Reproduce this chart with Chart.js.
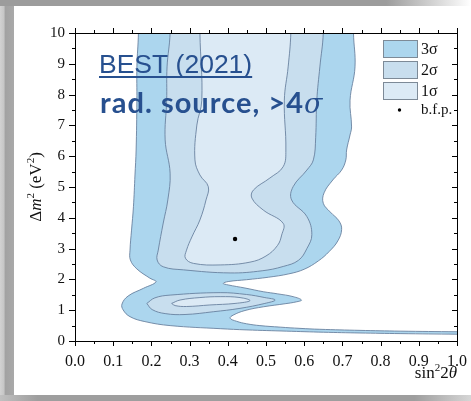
<!DOCTYPE html>
<html><head><meta charset="utf-8">
<script src="https://cdn.jsdelivr.net/npm/chart.js@4/dist/chart.umd.min.js"></script>
<style>
html,body{margin:0;padding:0;}
body{width:471px;height:401px;position:relative;overflow:hidden;background:#a9a9a9;}
#top{position:absolute;left:0;top:0;width:471px;height:6px;background:linear-gradient(to right,#9c9c9c 0%,#9c9c9c 82%,#ffffff 100%);}
#left{position:absolute;left:0;top:6px;width:14px;height:389px;background:linear-gradient(to right,#d2d2d2 0%,#c6c6c6 28%,#a2a2a2 38%,#a9a9a9 100%);}
#bottom{position:absolute;left:0;top:395px;width:471px;height:6px;background:linear-gradient(to right,#c0c0c0 0%,#9e9e9e 8%,#9e9e9e 88%,#d6d6d6 100%);}
#panel{position:absolute;left:14px;top:6px;width:457px;height:389px;background:#fff;}
#c{position:absolute;left:0;top:0;}
</style></head>
<body>
<div id="top"></div><div id="left"></div><div id="bottom"></div><div id="panel"></div>
<canvas id="c" width="471" height="401" style="width:471px;height:401px"></canvas>
<script>
const xTickLabels = ['0.0','0.1','0.2','0.3','0.4','0.5','0.6','0.7','0.8','0.9','1.0'];
const yTickLabels = ['0','1','2','3','4','5','6','7','8','9','10'];
const legendLabels = ['3σ','2σ','1σ','b.f.p.'];
const bestFit = [0.419, 3.31];

const sigma3 = [
[0.166,11.5],[0.166,10.0],[0.162,8.90],[0.162,7.82],[0.160,6.20],[0.157,5.39],[0.153,4.36],[0.148,3.60],
[0.144,2.95],[0.145,2.63],[0.162,2.34],[0.196,2.04],[0.212,1.92],[0.179,1.71],[0.139,1.46],[0.123,1.20],
[0.126,1.01],[0.144,0.79],[0.183,0.63],[0.249,0.50],[0.380,0.40],[0.450,0.36],[0.554,0.32],[0.650,0.285],
[0.746,0.26],[0.851,0.24],[1.000,0.22],[1.060,0.215],[1.060,0.295],[1.000,0.30],[0.851,0.32],[0.746,0.345],
[0.641,0.38],[0.589,0.41],[0.537,0.45],[0.484,0.50],[0.449,0.56],[0.423,0.64],[0.406,0.74],[0.414,0.84],
[0.445,0.99],[0.493,1.11],[0.550,1.21],[0.579,1.27],[0.593,1.33],[0.571,1.44],[0.531,1.53],[0.493,1.60],
[0.445,1.72],[0.401,1.82],[0.388,1.87],[0.401,1.93],[0.449,1.99],[0.506,2.07],[0.560,2.18],[0.600,2.33],
[0.637,2.60],[0.665,2.90],[0.688,3.25],[0.698,3.62],[0.691,3.90],[0.668,4.19],[0.650,4.47],[0.652,4.81],
[0.675,5.23],[0.698,5.55],[0.709,5.88],[0.711,6.20],[0.720,6.69],[0.724,6.95],[0.720,7.82],[0.733,8.90],
[0.729,10.0],[0.729,11.5],[0.45,11.5],[0.166,11.5]
];
const sigma2Upper = [
[0.249,11.5],[0.249,10.0],[0.241,8.90],[0.240,7.82],[0.236,6.53],[0.249,5.45],[0.243,4.58],[0.231,3.83],
[0.218,2.95],[0.215,2.63],[0.231,2.41],[0.284,2.31],[0.406,2.21],[0.490,2.28],[0.545,2.42],[0.585,2.62],
[0.607,3.00],[0.620,3.45],[0.607,4.04],[0.567,4.58],[0.571,5.01],[0.607,5.55],[0.624,5.88],[0.630,6.60],
[0.633,7.82],[0.641,8.90],[0.650,10.0],[0.650,11.5],[0.45,11.5],[0.249,11.5]
];
const sigma2Lower = [
[0.188,1.22],[0.209,1.40],[0.249,1.49],[0.380,1.57],[0.449,1.51],[0.497,1.41],[0.524,1.33],[0.497,1.22],
[0.432,1.06],[0.362,0.95],[0.288,0.86],[0.236,0.89],[0.202,1.02],[0.188,1.22]
];
const sigma1Upper = [
[0.327,11.5],[0.327,10.0],[0.332,7.82],[0.319,7.01],[0.314,5.88],[0.327,5.39],[0.349,5.01],[0.343,4.58],
[0.327,3.93],[0.306,3.38],[0.292,2.95],[0.289,2.69],[0.310,2.52],[0.380,2.47],[0.458,2.56],[0.500,2.76],
[0.530,3.10],[0.541,3.44],[0.545,3.82],[0.493,4.25],[0.463,4.64],[0.467,4.90],[0.510,5.29],[0.545,5.66],
[0.552,6.20],[0.548,7.82],[0.558,8.90],[0.565,10.0],[0.565,11.5],[0.45,11.5],[0.327,11.5]
];
const sigma1Lower = [
[0.253,1.22],[0.275,1.33],[0.327,1.41],[0.380,1.44],[0.432,1.41],[0.458,1.31],[0.419,1.22],[0.353,1.17],
[0.292,1.12],[0.262,1.15],[0.253,1.22]
];

const C3 = '#acd6ee', C2 = '#c8deee', C1 = '#dceaf5', LINE = 'rgba(100,125,155,0.95)';
const pts = a => a.map(p => ({x: p[0], y: p[1]}));
const region = (label, arr, color) => ({
  label, data: pts(arr), showLine: true, fill: 'shape', backgroundColor: color,
  borderColor: LINE, borderWidth: 0.9, tension: 0.4, pointRadius: 0
});

const deco = {
  id: 'deco',
  afterDraw(chart) {
    const {ctx, chartArea: a, scales: {x, y}} = chart;
    ctx.save();
    ctx.strokeStyle = '#000'; ctx.lineWidth = 1;
    ctx.beginPath();
    ctx.moveTo(a.left, a.top + 0.5); ctx.lineTo(a.right + 0.5, a.top + 0.5);
    ctx.moveTo(a.right + 0.5, a.top); ctx.lineTo(a.right + 0.5, a.bottom);
    for (let k = 0; k <= 20; k++) {
      const px = Math.round(x.getPixelForValue(k / 20)) + 0.5;
      const len = k % 2 ? 3 : 5;
      ctx.moveTo(px, a.bottom); ctx.lineTo(px, a.bottom + len);
      ctx.moveTo(px, a.top); ctx.lineTo(px, a.top - len);
      const py = Math.round(y.getPixelForValue(k / 2)) + 0.5;
      const ll = k % 2 ? 3 : 6;
      ctx.moveTo(a.left, py); ctx.lineTo(a.left - ll, py);
      ctx.moveTo(a.right, py); ctx.lineTo(a.right - (k % 2 ? 3 : 5), py);
    }
    ctx.stroke();

    // axis titles
    ctx.fillStyle = '#111';
    ctx.textBaseline = 'alphabetic';
    const serif = (s, st) => (st || '') + ' ' + s + 'px "Liberation Serif"';
    const parts = [['sin', serif(17), 0], ['2', serif(11), -7], ['2', serif(17), 0], ['θ', serif(17, 'italic'), 0]];
    let w = 0;
    parts.forEach(p => { ctx.font = p[1]; w += ctx.measureText(p[0]).width; });
    let cx = a.right - w, by = 378;
    parts.forEach(p => { ctx.font = p[1]; ctx.fillText(p[0], cx, by + p[2]); cx += ctx.measureText(p[0]).width; });
    const yparts = [['Δ', serif(17), 0], ['m', serif(17, 'italic'), 0], ['2', serif(11), -7], [' (eV', serif(17), 0], ['2', serif(11), -7], [')', serif(17), 0]];
    let yw = 0;
    yparts.forEach(p => { ctx.font = p[1]; yw += ctx.measureText(p[0]).width; });
    ctx.save();
    ctx.translate(41, (a.top + a.bottom) / 2 + yw / 2);
    ctx.rotate(-Math.PI / 2);
    let tx = 0;
    yparts.forEach(p => { ctx.font = p[1]; ctx.fillText(p[0], tx, p[2]); tx += ctx.measureText(p[0]).width; });
    ctx.restore();

    // legend
    const boxes = [C3, C2, C1];
    ctx.lineWidth = 1; ctx.strokeStyle = '#7d8a97';
    boxes.forEach((c, i) => {
      const top = 40 + i * 21;
      ctx.fillStyle = c; ctx.fillRect(383, top, 34, 17);
      ctx.strokeRect(383.5, top + 0.5, 34, 17);
      ctx.fillStyle = '#111'; ctx.font = serif(16);
      ctx.fillText(legendLabels[i], 421, top + 14);
    });
    ctx.beginPath(); ctx.arc(399.5, 110, 1.7, 0, Math.PI * 2); ctx.fillStyle = '#000'; ctx.fill();
    ctx.fillStyle = '#111'; ctx.font = serif(15);
    ctx.fillText(legendLabels[3], 421, 114);

    // annotations
    ctx.fillStyle = '#27508f';
    ctx.font = '26.5px "Liberation Sans"';
    const t1 = 'BEST (2021)';
    ctx.fillText(t1, 99, 73);
    const w1 = ctx.measureText(t1).width;
    ctx.fillRect(99, 76, w1, 2);
    ctx.font = 'bold 29px Lato';
    const t2 = 'rad. source, >4';
    const w2a = ctx.measureText(t2).width;
    const ls = Math.max(0, (204 - w2a) / t2.length);
    ctx.letterSpacing = ls.toFixed(2) + 'px';
    ctx.fillText(t2, 100, 113);
    const w2 = ctx.measureText(t2).width;
    ctx.letterSpacing = '0px';
    ctx.font = 'italic 27px "DejaVu Serif"';
    ctx.fillText('σ', 100 + w2, 113);
    ctx.restore();
  }
};

new Chart(document.getElementById('c'), {
  type: 'scatter',
  data: {
    datasets: [
      {label: legendLabels[3], data: [{x: bestFit[0], y: bestFit[1]}], pointRadius: 2.2, backgroundColor: '#000', borderWidth: 0, showLine: false},
      region('1σ lower', sigma1Lower, C1),
      region('1σ', sigma1Upper, C1),
      region('2σ lower', sigma2Lower, C2),
      region('2σ', sigma2Upper, C2),
      region('3σ', sigma3, C3)
    ]
  },
  options: {
    responsive: false,
    animation: false,
    events: [],
    layout: {padding: {left: 0, top: 33, right: 14, bottom: 0}},
    plugins: {legend: {display: false}, tooltip: {enabled: false}},
    scales: {
      x: {
        type: 'linear', min: 0, max: 1,
        ticks: {stepSize: 0.1, autoSkip: false, maxRotation: 0, padding: 11, color: '#111',
          font: {family: 'Liberation Serif', size: 16}, callback: (v, i) => xTickLabels[i]},
        grid: {display: false, drawTicks: false, tickLength: 0},
        border: {display: true, color: '#000', width: 1},
        afterFit(s) { s.height = 60; s.paddingRight = 0; s.paddingLeft = 0; }
      },
      y: {
        type: 'linear', min: 0, max: 10,
        ticks: {stepSize: 1, autoSkip: false, padding: 10, color: '#111',
          font: {family: 'Liberation Serif', size: 15}, callback: (v, i) => yTickLabels[i]},
        grid: {display: false, drawTicks: false, tickLength: 0},
        border: {display: true, color: '#000', width: 1},
        afterFit(s) { s.width = 75; s.paddingTop = 0; s.paddingBottom = 0; }
      }
    }
  },
  plugins: [deco]
});
</script>
</body></html>
